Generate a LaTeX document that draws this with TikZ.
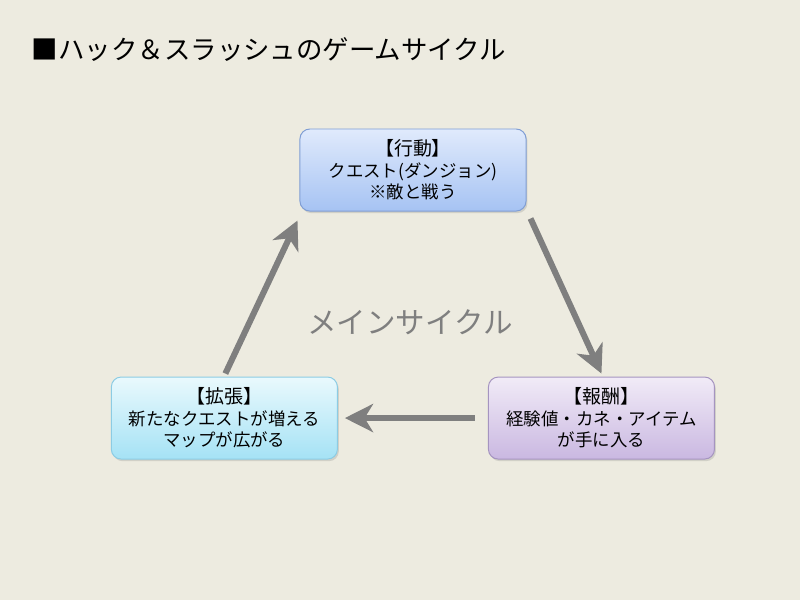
\documentclass[tikz,border=0pt]{standalone}
\usepackage{fontspec}
\setmainfont{Noto Sans CJK JP}
\usepackage{xcolor}
\usepackage{tikz}
\usetikzlibrary{positioning,arrows.meta,shadows,calc}

\definecolor{bgbeige}{RGB}{237,235,224}
\definecolor{arrgray}{RGB}{127,127,127}
\definecolor{acttop}{RGB}{224,234,252}
\definecolor{actbot}{RGB}{166,195,243}
\definecolor{actline}{RGB}{128,158,212}
\definecolor{exptop}{RGB}{233,249,253}
\definecolor{expbot}{RGB}{165,226,245}
\definecolor{expline}{RGB}{140,204,228}
\definecolor{rewtop}{RGB}{241,235,247}
\definecolor{rewbot}{RGB}{202,184,225}
\definecolor{rewline}{RGB}{165,148,192}

\newcommand{\boxhead}[1]{{\fontsize{13.5pt}{16pt}\selectfont #1}}

\begin{document}
\begin{tikzpicture}[
    x=0.025cm, y=-0.025cm,
    font=\fontsize{12.4pt}{15.3pt}\selectfont,
    every node/.style={align=center},
    box/.style={draw, rounded corners=7pt, minimum height=2.05cm, minimum width=5.65cm,
                inner sep=2pt, line width=0.7pt,
                drop shadow={shadow xshift=1pt, shadow yshift=-1.5pt, opacity=0.25}},
    actbox/.style={box, draw=actline, top color=acttop, bottom color=actbot},
    expbox/.style={box, draw=expline, top color=exptop, bottom color=expbot},
    rewbox/.style={box, draw=rewline, top color=rewtop, bottom color=rewbot},
    arr/.style={-{Stealth[length=20pt, width=20pt, inset=6pt]}, line width=4.3pt, draw=arrgray},
]

% Background and margins
\fill[bgbeige] (0,0) rectangle (800,600);

% Title
\node[anchor=west, font=\fontsize{18.8pt}{22pt}\selectfont] (title) at (27,50) {■ハック＆スラッシュのゲームサイクル};

% Cycle boxes
\node[actbox] (act) at (413,170) {\boxhead{【行動】}\\クエスト(ダンジョン)\\※敵と戦う};
\node[rewbox, below=4.125cm of act, xshift=4.71cm] (reward) {\boxhead{【報酬】}\\経験値・カネ・アイテム\\が手に入る};
\node[expbox, left=3.75cm of reward] (expand) {\boxhead{【拡張】}\\新たなクエストが増える\\マップが広がる};

% Centre label
\node[text=arrgray, font=\fontsize{21pt}{25pt}\selectfont] (cycle) at (410,322) {メインサイクル};

% Arrows
\draw[arr] ($(act.south east)+(4,7)$) -- ($(reward.north)+(0,-3)$);
\draw[arr] ($(reward.west)+(-13,0)$) -- ($(expand.east)+(7,0)$);
\draw[arr] ($(expand.north)+(1,-3)$) -- ($(act.south west)+(-2,9)$);

\end{tikzpicture}
\end{document}
